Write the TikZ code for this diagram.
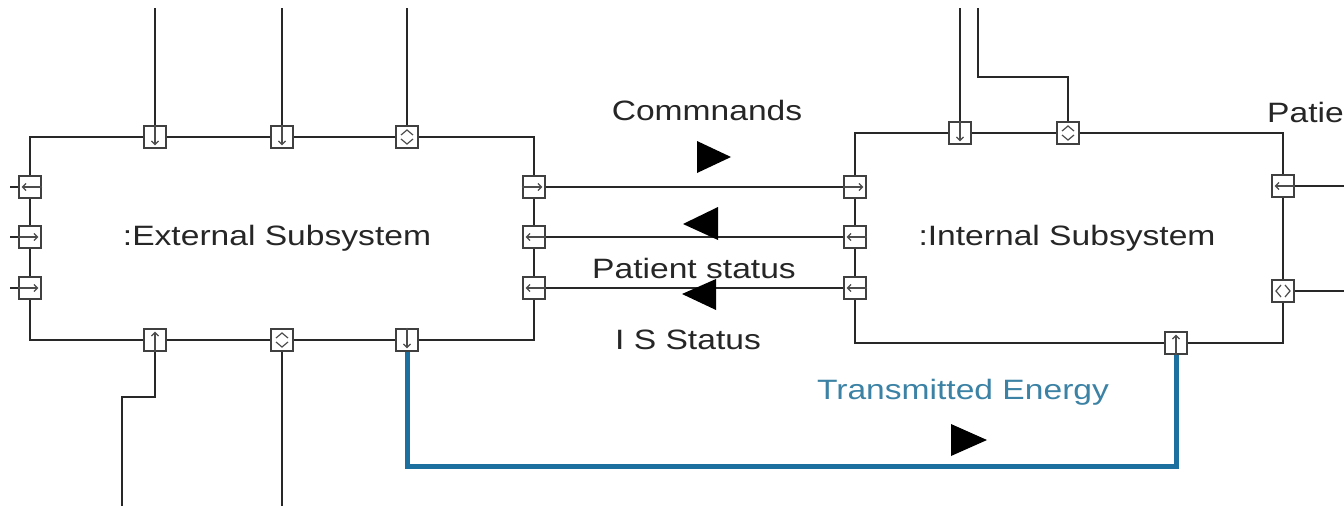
\documentclass[tikz,border=0pt]{standalone}
\usepackage{fontspec}
\setmainfont{Liberation Sans}[FakeStretch=1.2]
\usetikzlibrary{arrows.meta}
\definecolor{wirecol}{RGB}{40,40,40}
\definecolor{energy}{RGB}{28,112,160}
\definecolor{energytxt}{RGB}{60,130,165}
\newcommand\pdn[1]{\draw[glyph,-{Straight Barb[length=3.5pt,width=7pt]}] (#1.north) -- ([yshift=4pt]#1.south);}
\newcommand\pup[1]{\draw[glyph,-{Straight Barb[length=3.5pt,width=7pt]}] (#1.south) -- ([yshift=-4pt]#1.north);}
\newcommand\plf[1]{\draw[glyph,-{Straight Barb[length=3.5pt,width=7pt]}] (#1.east) -- ([xshift=4pt]#1.west);}
\newcommand\prt[1]{\draw[glyph,-{Straight Barb[length=3.5pt,width=7pt]}] (#1.west) -- ([xshift=-4pt]#1.east);}
\newcommand\pbv[1]{\draw[glyph] ([shift={(-6pt,-2pt)}]#1.center) -- ([shift={(0pt,-7pt)}]#1.center) -- ([shift={(6pt,-2pt)}]#1.center)
  ([shift={(-6pt,2pt)}]#1.center) -- ([shift={(0pt,7pt)}]#1.center) -- ([shift={(6pt,2pt)}]#1.center);}
\newcommand\pbh[1]{\draw[glyph] ([shift={(-2pt,-6pt)}]#1.center) -- ([shift={(-7pt,0pt)}]#1.center) -- ([shift={(-2pt,6pt)}]#1.center)
  ([shift={(2pt,-6pt)}]#1.center) -- ([shift={(7pt,0pt)}]#1.center) -- ([shift={(2pt,6pt)}]#1.center);}
\begin{document}
\begin{tikzpicture}[x=1pt,y=-1pt,
  wire/.style={draw=wirecol, line width=2.6pt},
  ewire/.style={draw=energy, line width=5pt},
  blk/.style={draw=wirecol, line width=2.6pt, fill=white, inner sep=0pt},
  port/.style={draw=black!75, fill=white, line width=2.6pt, minimum size=22pt, inner sep=0pt},
  glyph/.style={draw=black!70, line width=1.2pt},
  lbl/.style={font=\fontsize{28}{32}\selectfont, text=black!85, inner sep=0pt},
  tri/.style={fill=black}]
\useasboundingbox (0,0) rectangle (1344,506);
\fill[white] (0,0) rectangle (1344,506);

% free ends
\coordinate (t1) at (155,8);
\coordinate (t2) at (282,8);
\coordinate (t3) at (407,8);
\coordinate (l1) at (10,187);
\coordinate (l2) at (10,237);
\coordinate (l3) at (10,288);
\coordinate (b1a) at (155,397);
\coordinate (b1b) at (122,397);
\coordinate (b1c) at (122,506);
\coordinate (b2) at (282,506);
\coordinate (ec) at (407,466);
\coordinate (it1e) at (960,8);
\coordinate (it2a) at (1068,77);
\coordinate (it2b) at (978,77);
\coordinate (it2c) at (978,8);
\coordinate (r1) at (1344,186);
\coordinate (r2) at (1344,291);

% blocks
\node[blk, minimum width=504pt, minimum height=203pt] (ext) at (282,238.5) {};
\node[lbl] (extl) at (277,238) {:External Subsystem};
\node[blk, minimum width=428pt, minimum height=210pt] (int) at (1069,238) {};
\node[lbl] (intl) at (1067,238) {:Internal Subsystem};

% wires
\draw[wire] (t1) -- (155,137);
\draw[wire] (t2) -- (282,137);
\draw[wire] (t3) -- (407,137);
\draw[wire] (l1) -- (30,187);
\draw[wire] (l2) -- (30,237);
\draw[wire] (l3) -- (30,288);
\draw[wire] (155,340) -- (b1a) -- (b1b) -- (b1c);
\draw[wire] (282,340) -- (b2);
\draw[wire] (960,133) -- (it1e);
\draw[wire] (1068,133) -- (it2a) -- (it2b) -- (it2c);
\draw[wire] (1283,186) -- (r1);
\draw[wire] (1283,291) -- (r2);
\draw[wire] (534,187) -- (855,187);
\draw[wire] (534,237) -- (855,237);
\draw[wire] (534,288) -- (855,288);
\draw[ewire] (407,340) -- (ec) -| (1176,343);

% ports of external subsystem
\node[port] (et1) at (155,137) {}; \pdn{et1}
\node[port] (et2) at (282,137) {}; \pdn{et2}
\node[port] (et3) at (407,137) {}; \pbv{et3}
\node[port] (el1) at (30,187) {}; \plf{el1}
\node[port] (el2) at (30,237) {}; \prt{el2}
\node[port] (el3) at (30,288) {}; \prt{el3}
\node[port] (er1) at (534,187) {}; \prt{er1}
\node[port] (er2) at (534,237) {}; \plf{er2}
\node[port] (er3) at (534,288) {}; \plf{er3}
\node[port] (eb1) at (155,340) {}; \pup{eb1}
\node[port] (eb2) at (282,340) {}; \pbv{eb2}
\node[port] (eb3) at (407,340) {}; \pdn{eb3}

% ports of internal subsystem
\node[port] (it1) at (960,133) {}; \pdn{it1}
\node[port] (it2) at (1068,133) {}; \pbv{it2}
\node[port] (il1) at (855,187) {}; \prt{il1}
\node[port] (il2) at (855,237) {}; \plf{il2}
\node[port] (il3) at (855,288) {}; \plf{il3}
\node[port] (ir1) at (1283,186) {}; \plf{ir1}
\node[port] (ir2) at (1283,291) {}; \pbh{ir2}
\node[port] (ib1) at (1176,343) {}; \pup{ib1}

% labels
\node[lbl] (cmd) at (707,110) {Commnands};
\node[lbl] (ps) at (694,268) {Patient status};
\node[lbl] (iss) at (688,340) {I S Status};
\node[lbl, text=energytxt] (te) at (963,392) {Transmitted Energy};
\node[lbl, anchor=west] (pr) at (1267,112) {Patie};

% direction triangles
\fill[tri] (697,141) -- (731,157) -- (697,173) -- cycle;
\fill[tri] (718,207) -- (683,224) -- (718,240) -- cycle;
\fill[tri] (716,279) -- (682,294) -- (716,310) -- cycle;
\fill[tri] (951,424) -- (987,440) -- (951,456) -- cycle;
\end{tikzpicture}
\end{document}
